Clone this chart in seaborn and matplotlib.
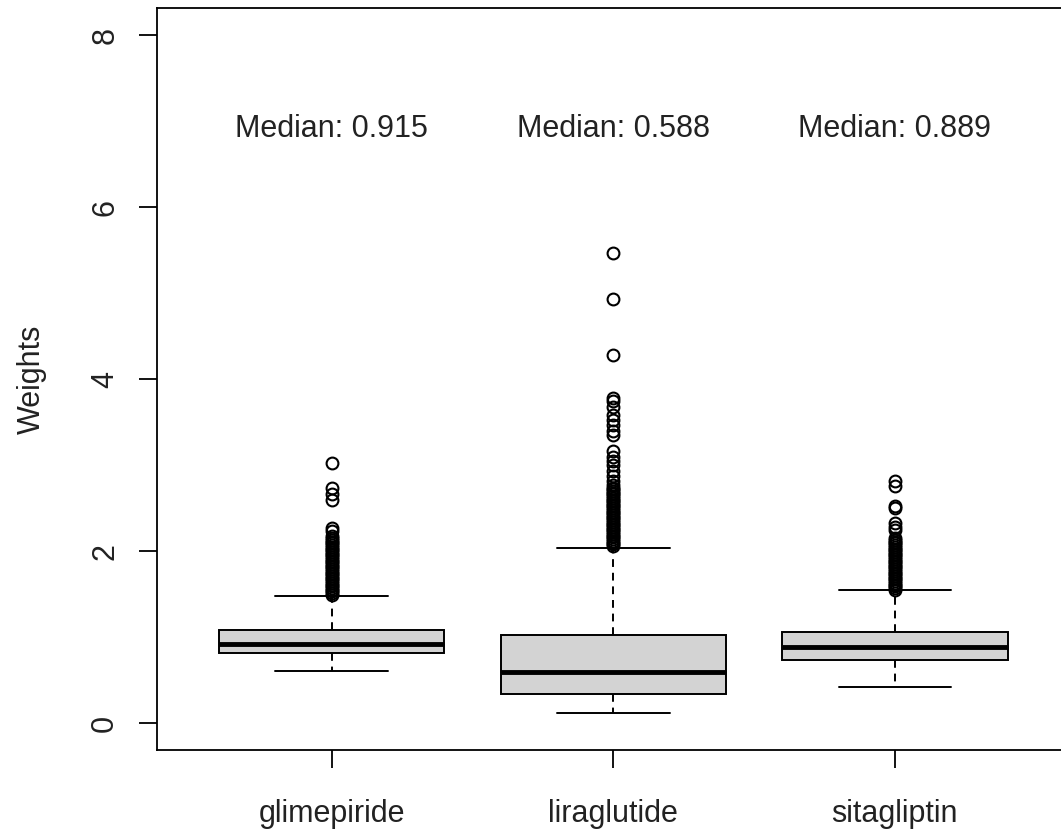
import numpy as np
import pandas as pd
from matplotlib import pyplot as plt
import seaborn as sns

# Drugs and summary values
drugs = ['glimepiride', 'liraglutide', 'sitagliptin']
medians = [0.915, 0.588, 0.889]
q1 = [0.815, 0.335, 0.735]
q3 = [1.083, 1.020, 1.060]
whisker_lo = [0.609, 0.113, 0.423]
whisker_hi = [1.478, 2.040, 1.545]

# Points beyond the whiskers
glimepiride_out = [3.02, 2.73, 2.67, 2.60, 2.27, 2.23, 2.17, 2.15,
                   2.13, 2.11, 2.09, 2.07, 2.05, 2.03, 2.01, 1.99, 1.97, 1.95,
                   1.93, 1.91, 1.89, 1.87, 1.85, 1.83, 1.81, 1.79, 1.77, 1.75,
                   1.73, 1.71, 1.69, 1.67, 1.65, 1.63, 1.61, 1.59, 1.57, 1.55,
                   1.53, 1.51, 1.49]
liraglutide_out = [5.47, 4.93, 4.28, 3.78, 3.75, 3.68, 3.58, 3.52, 3.47,
                   3.40, 3.35, 3.16, 3.10, 3.05, 3.00, 2.93, 2.87, 2.82, 2.77,
                   2.74, 2.72, 2.70, 2.68, 2.66, 2.64, 2.62, 2.60, 2.58, 2.56,
                   2.54, 2.52, 2.50, 2.48, 2.46, 2.44, 2.42, 2.40, 2.38, 2.36,
                   2.34, 2.32, 2.30, 2.28, 2.26, 2.24, 2.22, 2.20, 2.18, 2.16,
                   2.14, 2.12, 2.10, 2.08, 2.06]
sitagliptin_out = [2.81, 2.76, 2.52, 2.50, 2.33, 2.28, 2.24,
                   2.15, 2.13, 2.11, 2.09, 2.07, 2.05, 2.03, 2.01, 1.99, 1.97,
                   1.95, 1.93, 1.91, 1.89, 1.87, 1.85, 1.83, 1.81, 1.79, 1.77,
                   1.75, 1.73, 1.71, 1.69, 1.67, 1.65, 1.63, 1.61, 1.59, 1.57,
                   1.55]
outliers = [glimepiride_out, liraglutide_out, sitagliptin_out]

# Rebuild a sample per drug whose Tukey stats give the values above
block = 200
rows = []
for i, drug in enumerate(drugs):
    vals = ([whisker_lo[i]] + [q1[i]] * block + [medians[i]] * block
            + [q3[i]] * block + [whisker_hi[i]] + outliers[i])
    rows += [(drug, v) for v in vals]
df = pd.DataFrame(rows, columns=['drug', 'Weights'])

sns.set_style('white')
plt.rcParams['font.family'] = ['Liberation Sans', 'DejaVu Sans']

fig = plt.figure(figsize=(10.61, 8.32), dpi=100)
ax = fig.add_axes([0.148, 0.098, 0.860, 0.8924])

sns.boxplot(data=df, x='drug', y='Weights', order=drugs, ax=ax,
            color='#D3D3D3', saturation=1, linecolor='black', linewidth=1.4,
            width=0.8, fliersize=8.5,
            whiskerprops={'linestyle': (0, (4, 3))},
            medianprops={'linewidth': 3.5},
            flierprops={'marker': 'o', 'markerfacecolor': 'none',
                        'markeredgecolor': 'black', 'markeredgewidth': 1.5})

for i, m in enumerate(medians):
    ax.annotate(f'Median: {m}', xy=(i, 7), xytext=(0, -11),
                textcoords='offset points', ha='center', va='baseline',
                fontsize=22, color='#222222')

ax.set_xlim(-0.62, 2.62)
ax.set_ylim(-0.32, 8.32)
ax.set_yticks([0, 2, 4, 6, 8])
ax.set_xlabel('')
ax.set_ylabel('Weights', fontsize=22, color='#222222')
ax.yaxis.set_label_coords(-0.121, 0.5)

ax.tick_params(axis='both', which='both', direction='out', length=13,
               width=1.3, color='black', labelsize=22, labelcolor='#222222',
               left=True, bottom=True)
ax.tick_params(axis='y', labelrotation=90, pad=13.5)
ax.tick_params(axis='x', pad=22)
for lab in ax.get_yticklabels():
    lab.set_va('center')

for s in ax.spines.values():
    s.set_visible(True)
    s.set_color('black')
    s.set_linewidth(1.3)

plt.savefig('out.png', dpi=100)
